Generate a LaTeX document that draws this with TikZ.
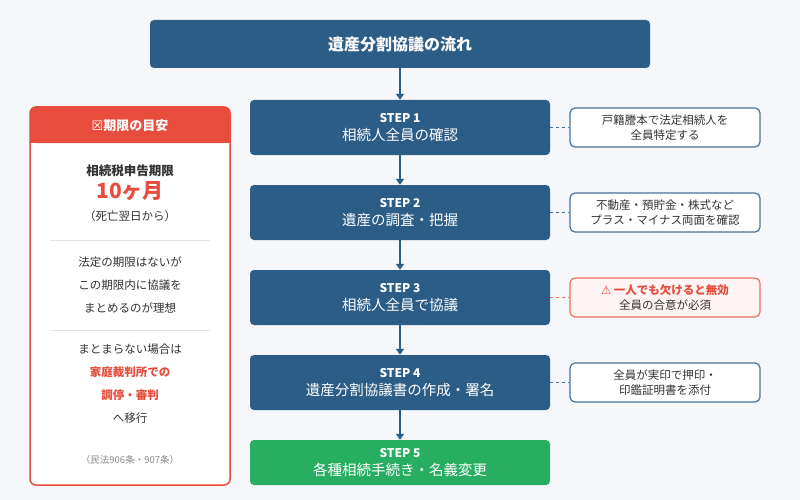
\documentclass[tikz,border=0pt]{standalone}
\usepackage{fontspec}
\setmainfont{Noto Sans CJK JP}
\newfontfamily\sym{DejaVu Sans}
\usetikzlibrary{arrows.meta}
\definecolor{navy}{HTML}{2C5D87}
\definecolor{bg}{HTML}{F5F7FA}
\definecolor{redc}{HTML}{E74C3C}
\definecolor{grn}{HTML}{27AE60}
\definecolor{txt}{HTML}{333333}
\definecolor{notebd}{HTML}{4A7296}
\tikzset{x=1pt,y=-1pt,
stepbox/.style={fill=navy,rounded corners=4pt,text=white,minimum width=300pt,minimum height=55pt,align=center,font=\fontsize{14.5}{18}\selectfont},
notebox/.style={draw=notebd,line width=1.2pt,fill=white,rounded corners=5pt,minimum width=190pt,minimum height=39pt,align=center,text=txt,font=\fontsize{11.5}{14.5}\selectfont},
arr/.style={navy,line width=1.5pt,-{Triangle[length=6pt,width=8pt]}},
dashlink/.style={draw=notebd,dashed,line width=1pt}}
\begin{document}
\begin{tikzpicture}
\fill[bg] (0,0) rectangle (800,500);
\node[stepbox,minimum width=500pt,minimum height=48pt,font=\bfseries\fontsize{16}{19}\selectfont] (t) at (400,44) {遺産分割協議の流れ};
\node[stepbox] (s1) at (400,127.5) {\textbf{\fontsize{12}{15}\selectfont STEP 1}\\相続人全員の確認};
\node[stepbox] (s2) at (400,212.5) {\textbf{\fontsize{12}{15}\selectfont STEP 2}\\遺産の調査・把握};
\node[stepbox] (s3) at (400,297.5) {\textbf{\fontsize{12}{15}\selectfont STEP 3}\\相続人全員で協議};
\node[stepbox] (s4) at (400,382.5) {\textbf{\fontsize{12}{15}\selectfont STEP 4}\\遺産分割協議書の作成・署名};
\node[stepbox,fill=grn,minimum height=45pt] (s5) at (400,462.5) {\textbf{\fontsize{12}{15}\selectfont STEP 5}\\各種相続手続き・名義変更};
\foreach \a/\b in {t/s1,s1/s2,s2/s3,s3/s4,s4/s5} \draw[arr] (\a) -- (\b);
\node[notebox] (n1) at (665,127.5) {戸籍謄本で法定相続人を\\全員特定する};
\node[notebox] (n2) at (665,212.5) {不動産・預貯金・株式など\\プラス・マイナス両面を確認};
\node[notebox,draw=redc!80,fill=redc!6] (n3) at (665,297.5) {\textcolor{redc}{\textbf{{\sym ⚠} 一人でも欠けると無効}}\\全員の合意が必須};
\node[notebox] (n4) at (665,382.5) {全員が実印で押印・\\印鑑証明書を添付};
\draw[dashlink] (s1) -- (n1); \draw[dashlink] (s2) -- (n2);
\draw[dashlink,draw=redc!80] (s3) -- (n3); \draw[dashlink] (s4) -- (n4);
% left panel
\draw[redc,line width=1.5pt,fill=white,rounded corners=6pt] (30,107) rectangle (230,485);
\fill[redc,rounded corners=6pt] (30,107) rectangle (230,143);
\fill[redc] (30,130) rectangle (230,143);
\node[text=white,font=\bfseries\fontsize{13}{15}\selectfont] (ph) at (130,126) {{\sym\mdseries ☒}期限の目安};
\node[text=txt,font=\bfseries\fontsize{12.5}{15}\selectfont] (p1) at (130,171) {相続税申告期限};
\node[text=redc,font=\bfseries\fontsize{21}{24}\selectfont] (p2) at (130,191) {10ヶ月};
\node[text=txt,font=\fontsize{11.5}{14}\selectfont] (p3) at (130,216) {（死亡翌日から）};
\draw[black!10,line width=1pt] (50,240) -- (210,240);
\node[text=txt,align=center,font=\fontsize{11.5}{23}\selectfont] (p4) at (130,285) {法定の期限はないが\\この期限内に協議を\\まとめるのが理想};
\draw[black!10,line width=1pt] (50,330) -- (210,330);
\node[text=txt,align=center,font=\fontsize{11.5}{23}\selectfont] (p5) at (130,384) {まとまらない場合は\\\textcolor{redc}{\textbf{家庭裁判所での}}\\\textcolor{redc}{\textbf{調停・審判}}\\へ移行};
\node[text=black!45,font=\fontsize{9.5}{11}\selectfont] (p6) at (130,460) {（民法906条・907条）};
\end{tikzpicture}
\end{document}
